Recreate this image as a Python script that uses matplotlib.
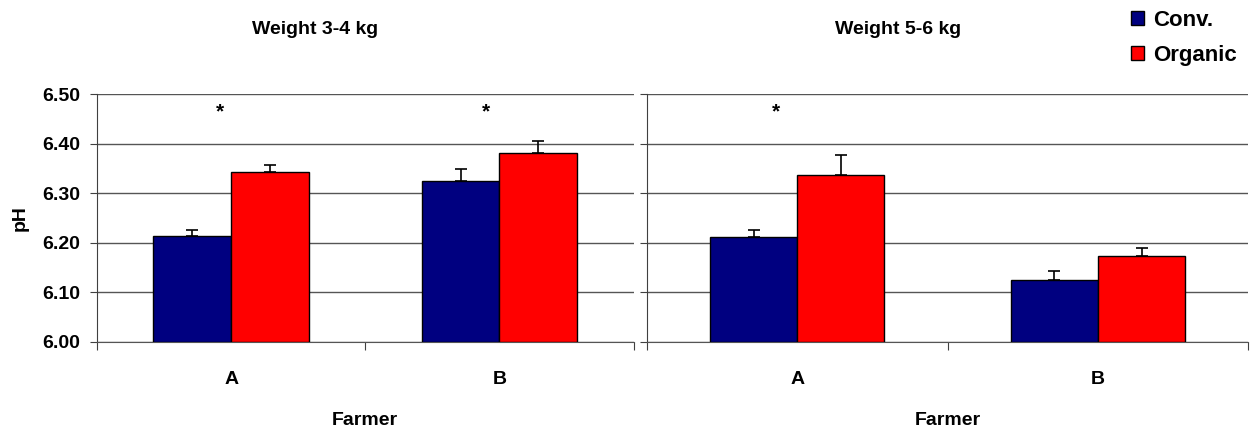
import numpy as np
import matplotlib
matplotlib.use('Agg')
import matplotlib.pyplot as plt
from matplotlib.patches import Patch

plt.rcParams['font.family'] = ['Liberation Sans', 'DejaVu Sans']
plt.rcParams['font.weight'] = 'bold'

farmers = ['A', 'B']
series = ['Conv.', 'Organic']
colors = ['#000080', '#FF0000']

# weight 3-4 kg
conv_34 = [6.214, 6.325]
conv_34_err = [0.012, 0.023]
org_34 = [6.342, 6.382]
org_34_err = [0.015, 0.023]
stars_34 = [0.46, 1.45]

# weight 5-6 kg
conv_56 = [6.211, 6.126]
conv_56_err = [0.015, 0.018]
org_56 = [6.336, 6.174]
org_56_err = [0.041, 0.016]
stars_56 = [0.43]

yticks = [6.0, 6.1, 6.2, 6.3, 6.4, 6.5]

fig = plt.figure(figsize=(12.51, 4.28), dpi=100)
ax1 = fig.add_axes([0.0775, 0.201, 0.429, 0.579])
ax2 = fig.add_axes([0.517, 0.201, 0.481, 0.579])

panels = [(ax1, conv_34, conv_34_err, org_34, org_34_err, stars_34),
          (ax2, conv_56, conv_56_err, org_56, org_56_err, stars_56)]

w = 0.29
x = np.arange(len(farmers)) + 0.5
for ax, cv, cve, og, oge, stars in panels:
    for vals, errs, off, c in [(cv, cve, -w / 2, colors[0]), (og, oge, w / 2, colors[1])]:
        ax.bar(x + off, np.array(vals) - 6.0, width=w, bottom=6.0, color=c,
               edgecolor='black', linewidth=1, zorder=3)
        ax.errorbar(x + off, vals, yerr=[np.zeros(len(errs)), errs], fmt='none',
                    ecolor='black', elinewidth=1.2, capsize=4, capthick=1.2, zorder=4)
    for sx in stars:
        ax.text(sx, 6.465, '*', ha='center', va='center', fontsize=15, fontweight='bold')
    ax.set_xlim(0, 2)
    ax.set_ylim(6.0, 6.5)
    ax.set_yticks(yticks)
    ax.yaxis.grid(True, color='#555555', linewidth=1)
    ax.set_axisbelow(True)
    for s in ['top', 'right']:
        ax.spines[s].set_visible(False)
    ax.spines['left'].set_color('#404040')
    ax.spines['bottom'].set_color('#555555')
    ax.set_xticks([0, 1, 2])
    ax.set_xticklabels([])
    ax.set_xticks(x, minor=True)
    ax.set_xticklabels(farmers, minor=True, fontsize=14, fontweight='bold')
    ax.tick_params(axis='x', which='major', length=6, direction='out', color='#404040')
    ax.tick_params(axis='x', which='minor', length=0, pad=21)
    ax.tick_params(axis='y', length=5, direction='out', color='#404040')
    ax.set_xlabel('Farmer', fontsize=14, fontweight='bold', labelpad=17)

ax1.set_yticklabels(['%.2f' % v for v in yticks], fontsize=14, fontweight='bold')
ax1.tick_params(axis='y', pad=7)
ax1.set_ylabel('pH', fontsize=14, fontweight='bold', labelpad=10)
ax2.set_yticklabels([])

fig.text(315 / 1251, 1 - 29 / 428, 'Weight 3-4 kg', ha='center', va='center',
         fontsize=14, fontweight='bold')
fig.text(898 / 1251, 1 - 29 / 428, 'Weight 5-6 kg', ha='center', va='center',
         fontsize=14, fontweight='bold')

handles = [Patch(facecolor=c, edgecolor='black', label=s) for c, s in zip(colors, series)]
fig.legend(handles=handles, loc='upper left', bbox_to_anchor=(1111 / 1251, 1.023),
           frameon=False, handlelength=0.6, handleheight=0.6,
           handletextpad=0.4, labelspacing=0.62, prop={'weight': 'bold', 'size': 16})

fig.savefig('out.png', dpi=100)
